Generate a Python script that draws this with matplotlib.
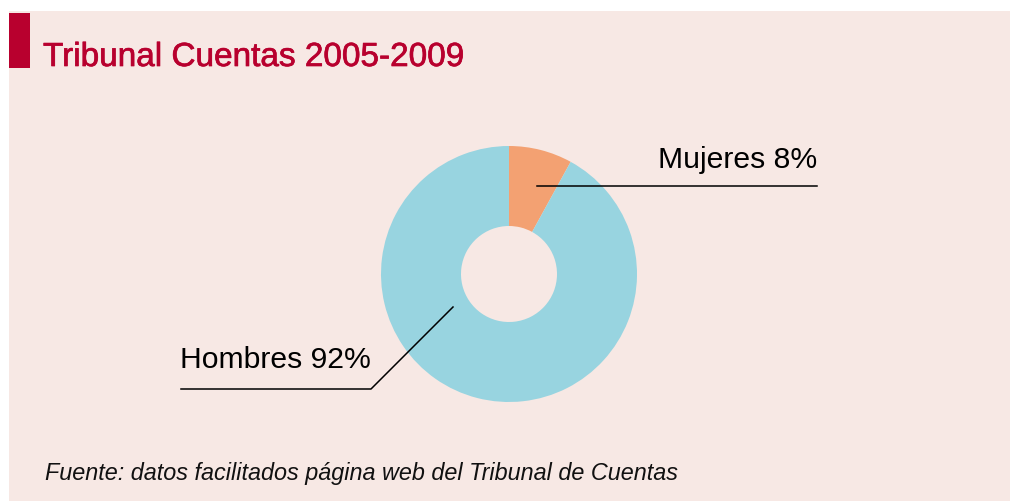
import numpy as np
import matplotlib.pyplot as plt
import matplotlib.patheffects as pe
from matplotlib.patches import Rectangle

# ------------------------------------------------------------
# Donut: Tribunal de Cuentas 2005-2009, by sex
# ------------------------------------------------------------
TITLE = "Tribunal Cuentas 2005-2009"
SOURCE = "Fuente: datos facilitados página web del Tribunal de Cuentas"

CATEGORIES = ["Mujeres", "Hombres"]
SHARES = [8, 92]
COLORS = ["#F3A172", "#98D4E0"]

BG = "#F7E8E4"
RED = "#B8002E"
FONT = ["Liberation Sans", "DejaVu Sans"]

W, H = 1010, 501

fig = plt.figure(figsize=(W / 100, H / 100), dpi=100)
fig.patch.set_facecolor("white")
ax = fig.add_axes([0, 0, 1, 1])
ax.set_axis_off()

# panel background + red marker
ax.add_patch(Rectangle((9, 0), W - 9, H - 11, facecolor=BG, edgecolor="none", zorder=0))
ax.add_patch(Rectangle((9, H - 68), 21, 55, facecolor=RED, edgecolor="none", zorder=1))

center = (509, H - 274)
radius = 128
wedges, _ = ax.pie(
    SHARES, colors=COLORS, startangle=90, counterclock=False,
    center=center, radius=radius, frame=False,
    wedgeprops=dict(width=radius * 0.625, edgecolor="none"),
)
ax.set_xlim(0, W)
ax.set_ylim(0, H)
ax.set_aspect("auto")

# medium-weight title: regular face with a thin outline
ax.text(43, H - 66, TITLE, fontsize=24, color=RED, family=FONT,
        ha="left", va="baseline",
        path_effects=[pe.withStroke(linewidth=0.5, foreground=RED)])

# leader lines (offsets relative to the donut centre)
cx, cy = center
ax.plot([cx + 28, cx + 308], [cy + 88, cy + 88], color="black", lw=1.1)
ax.text(cx + 308, cy + 106, f"{CATEGORIES[0]} {SHARES[0]}%", fontsize=21.7,
        family=FONT, ha="right", va="baseline", color="black")

ax.plot([cx - 56, cx - 138, cx - 328], [cy - 33, cy - 115, cy - 115],
        color="black", lw=1.1)
ax.text(cx - 329, cy - 94, f"{CATEGORIES[1]} {SHARES[1]}%", fontsize=21.7,
        family=FONT, ha="left", va="baseline", color="black")

ax.text(45, H - 480, SOURCE, fontsize=16.8, style="italic", color="#111111",
        family=FONT, ha="left", va="baseline")

fig.savefig("out.png", dpi=100, facecolor=fig.get_facecolor())
